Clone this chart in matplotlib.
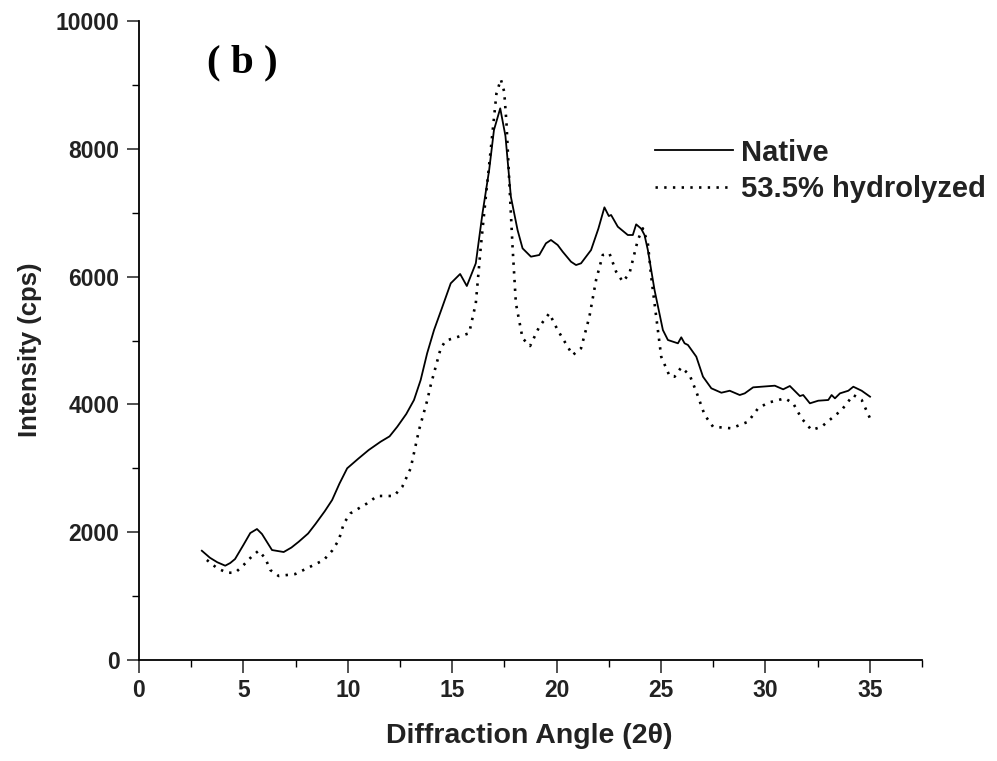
import numpy as np
import matplotlib.pyplot as plt
from matplotlib.ticker import MultipleLocator

# XRD patterns
native_x = [3.01, 3.4, 3.75, 4.13, 4.37, 4.6, 5.0, 5.33, 5.65, 5.89, 6.37, 6.93, 7.3, 7.65,
            8.1, 8.45, 8.9, 9.25, 9.6, 9.97, 10.5, 11.0, 11.57, 12.0, 12.37, 12.8, 13.17,
            13.49, 13.8, 14.13, 14.5, 14.93, 15.38, 15.7, 16.13, 16.45, 16.77, 17.0, 17.3,
            17.55, 17.81, 18.13, 18.37, 18.77, 19.17, 19.49, 19.73, 20.05, 20.29, 20.69,
            20.93, 21.17, 21.65, 22.0, 22.29, 22.5, 22.61, 22.93, 23.41, 23.65, 23.81,
            24.05, 24.21, 24.37, 24.69, 25.09, 25.33, 25.81, 25.97, 26.13, 26.29, 26.69,
            27.01, 27.41, 27.89, 28.29, 28.77, 29.01, 29.41, 30.45, 30.85, 31.17, 31.65,
            31.81, 32.13, 32.53, 33.01, 33.17, 33.33, 33.57, 33.97, 34.21, 34.61, 35.01]
native_y = [1710, 1600, 1530, 1476, 1518, 1580, 1800, 1987, 2050, 1972, 1721, 1690, 1760, 1851,
            1980, 2128, 2330, 2504, 2760, 3000, 3150, 3286, 3416, 3500, 3651, 3850, 4069,
            4382, 4800, 5164, 5500, 5895, 6041, 5853, 6208, 6990, 7668, 8294, 8633,
            8200, 7250, 6729, 6442, 6312, 6338, 6521, 6573, 6495, 6390, 6233,
            6181, 6208, 6416, 6750, 7084, 6948, 6964, 6781, 6651, 6651, 6818,
            6750, 6651, 6416, 5790, 5164, 5008, 4956, 5050, 4956, 4930, 4747,
            4434, 4252, 4183, 4214, 4147, 4173, 4267, 4293, 4236, 4288, 4131,
            4147, 4017, 4058, 4069, 4147, 4095, 4173, 4214, 4277, 4214, 4121]

hydro_x = [3.25, 3.73, 4.21, 4.61, 5.01, 5.4, 5.73, 6.05, 6.29, 6.69, 7.49, 8.37, 8.85, 9.25,
           9.57, 9.81, 10.13, 10.93, 11.41, 12.21, 12.61, 13.01, 13.41, 13.81, 13.97, 14.45,
           14.69, 15.3, 15.81, 16.13, 16.37, 16.61, 16.85, 17.04, 17.12, 17.33, 17.49, 17.6,
           17.73, 17.89, 18.05, 18.37, 18.73, 19.17, 19.65, 20.05, 20.77, 21.17, 21.57,
           21.89, 22.21, 22.53, 22.85, 23.17, 23.49, 23.89, 24.13, 24.37, 24.53, 24.77,
           25.01, 25.41, 25.65, 25.97, 26.37, 26.69, 27.09, 27.49, 28.37, 29.17, 29.65,
           30.13, 30.93, 31.33, 31.73, 32.21, 32.69, 33.17, 33.65, 34.21, 34.61, 35.01]
hydro_y = [1565, 1440, 1366, 1366, 1487, 1620, 1711, 1591, 1408, 1315, 1346, 1487, 1565, 1711,
           1878, 2139, 2296, 2452, 2567, 2567, 2712, 3000, 3599, 4069, 4300, 4878,
           4998, 5060, 5113, 5582, 6468, 7250, 8000, 8607, 8868, 9087, 8894, 8400,
           7512, 6468, 5582, 5034, 4914, 5216, 5425, 5164, 4773, 4878, 5372,
           5947, 6338, 6364, 6077, 5920, 6051, 6573, 6755, 6521, 5998, 5372,
           4747, 4444, 4434, 4580, 4460, 4199, 3834, 3651, 3626, 3729, 3939,
           4027, 4095, 4017, 3782, 3599, 3651, 3782, 3912, 4147, 4069, 3782]

x_ticks = [0, 5, 10, 15, 20, 25, 30, 35]
y_ticks = [0, 2000, 4000, 6000, 8000, 10000]

plt.rcParams['font.family'] = ['Liberation Sans', 'DejaVu Sans']
plt.rcParams['font.weight'] = 'bold'

fig = plt.figure(figsize=(9.97, 7.61), dpi=100)
ax = fig.add_axes([0.1394, 0.1327, 0.7854, 0.8397])

ax.plot(native_x, native_y, color='black', lw=1.3, label='Native')
ax.plot(hydro_x, hydro_y, color='black', lw=1.9, linestyle=(0, (0.9, 2.4)),
        label='53.5% hydrolyzed')

ax.set_xlim(0, 37.5)
ax.set_ylim(0, 10000)
ax.set_xticks(x_ticks)
ax.set_yticks(y_ticks)
ax.xaxis.set_minor_locator(MultipleLocator(2.5))
ax.yaxis.set_minor_locator(MultipleLocator(1000))

for s in ['top', 'right']:
    ax.spines[s].set_visible(False)
for s in ['left', 'bottom']:
    ax.spines[s].set_linewidth(1.3)

ax.tick_params(which='major', direction='out', length=9, width=1.1, labelsize=16.5,
               colors='#222222', pad=5)
ax.tick_params(which='minor', direction='out', length=5, width=1.0)
for lab in ax.get_xticklabels() + ax.get_yticklabels():
    lab.set_fontweight('bold')

ax.set_xlabel('Diffraction Angle (2\u03b8)', fontsize=20.5, fontweight='bold',
              color='#222222')
ax.set_ylabel('Intensity (cps)', fontsize=18.5, fontweight='bold', color='#222222')
ax.xaxis.set_label_coords(0.498, -0.098)
ax.yaxis.set_label_coords(-0.124, 0.485)

ax.text(0.087, 0.963, '( b )', transform=ax.transAxes, fontsize=29.5,
        fontweight='bold', family='Liberation Serif', va='top', ha='left')

leg = ax.legend(loc='upper left', bbox_to_anchor=(0.626, 0.857), frameon=False,
                fontsize=21, handlelength=2.65, handletextpad=0.3, labelspacing=0.3)
for t in leg.get_texts():
    t.set_fontweight('bold')
    t.set_color('#222222')

fig.savefig('out.png', dpi=100)
